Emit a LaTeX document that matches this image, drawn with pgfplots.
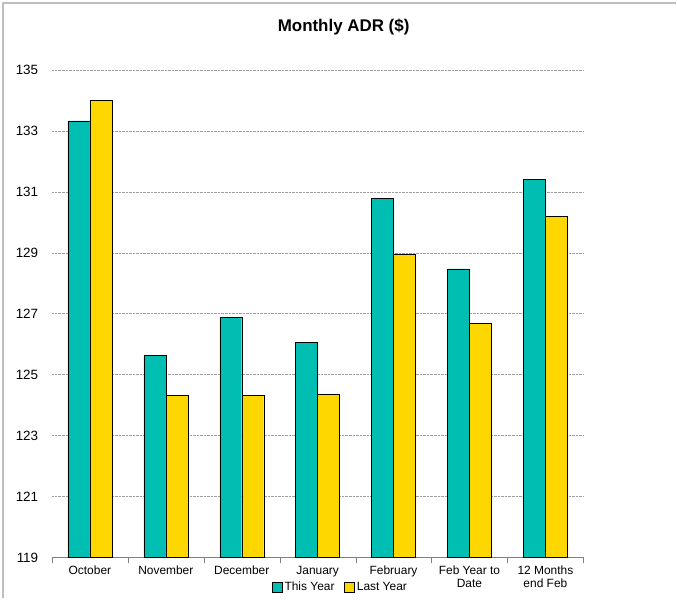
\documentclass[border=0pt]{standalone}
\usepackage{fontspec}
\setmainfont{Liberation Sans}
\usepackage{pgfplots}
\pgfplotsset{compat=1.18}
\usetikzlibrary{calc}
\definecolor{tycol}{RGB}{0,191,178}
\definecolor{lycol}{RGB}{255,215,0}
\begin{document}
\begin{tikzpicture}
\begin{axis}[
    name=ax,
    scale only axis,
    width=532bp, height=488bp,
    xmin=-0.5, xmax=6.5,
    ymin=119, ymax=135,
    ytick={119,121,...,135},
    xtick={0,...,6},
    xticklabels={October,November,December,January,February,{Feb Year to\\Date},{12 Months\\end Feb}},
    minor xtick={-0.5,0.5,...,6.5},
    axis x line*=bottom,
    axis y line*=left,
    y axis line style={draw=none},
    x axis line style={draw=gray},
    major tick style={draw=none},
    minor tick style={draw=gray},
    minor tick length=6bp,
    tick align=outside,
    ymajorgrids,
    grid style={gray!75, line width=0.4pt, densely dotted},
    ybar=0pt, bar width=22bp,
    xticklabel style={align=center, font=\fontsize{12}{13}\selectfont, yshift=-1bp},
    yticklabel style={font=\fontsize{13.5}{14}\selectfont, xshift=-6bp},
    /pgf/number format/assume math mode=true,
    legend columns=2,
    legend style={at={(axis description cs:0.543,0)}, anchor=center, yshift=-30bp,
        draw=none, font=\fontsize{12}{13}\selectfont,
        /tikz/every even column/.append style={column sep=8bp}},
    legend image code/.code={\draw[#1,draw=black] (0bp,-5bp) rectangle (10bp,5bp);},
]
\addplot[fill=tycol, draw=black] coordinates {
    (0,133.33) (1,125.62) (2,126.88) (3,126.05) (4,130.79) (5,128.47) (6,131.40)};
\addplot[fill=lycol, draw=black] coordinates {
    (0,134.00) (1,124.32) (2,124.32) (3,124.35) (4,128.95) (5,126.69) (6,130.20)};
\legend{This Year, Last Year}
\end{axis}
\node[font=\bfseries\fontsize{17}{18}\selectfont] at ($(ax.north west)+(292bp,43bp)$) {Monthly ADR (\$)};
\path ($(ax.south west)+(-52bp,-41bp)$) rectangle ($(ax.south west)+(625bp,558bp)$);
\draw[gray!50, line width=1.5bp] ($(ax.south west)+(-49bp,-41bp)$) |- ($(ax.south west)+(625bp,555bp)$);
\end{tikzpicture}
\end{document}
